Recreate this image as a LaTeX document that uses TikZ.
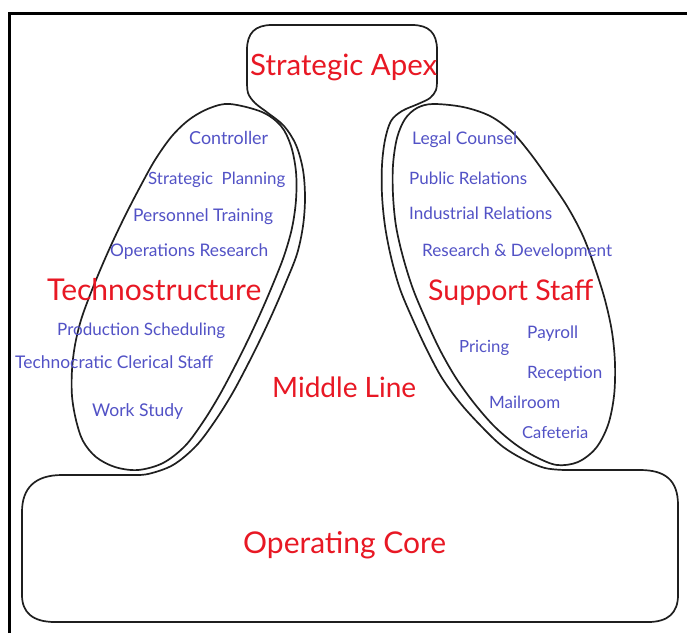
\documentclass[tikz,border=0pt]{standalone}
\usepackage{fontspec}
\setmainfont{Lato}
\usepackage{graphicx}
\definecolor{partred}{RGB}{232,24,36}
\definecolor{itemblue}{RGB}{82,82,198}
\tikzset{
  outline/.style={draw=black!88, line width=1.7pt, line join=round},
  frameline/.style={draw=black, line width=3pt},
  part/.style={text=partred, inner sep=0pt, anchor=base west},
  item/.style={text=itemblue, inner sep=0pt, anchor=base west},
}
\newcommand{\fw}[2]{\resizebox{#1pt}{!}{#2}}
\begin{document}
\begin{tikzpicture}[x=1pt,y=-1pt]
\useasboundingbox (0,0) rectangle (687,633);
\fill[white] (0,0) rectangle (687,633);
% frame
\draw[frameline] (9,633) -- (9,13.5) -- (687,13.5);
% main contour: apex, middle line, operating core
\draw[outline] (340,25) -- (272,25) .. controls (255,25) and (247,33) .. (247,50) -- (247,80)
  -- plot[smooth, tension=0.55] coordinates {(247,80) (248,93) (255,103) (268,113) (284,126) (296,145) (303,170) (305,198) (303,226) (297,254) (286,282) (274,310) (261,338) (247,366) (232,394) (215,421) (196,446) (173,465) (148,474) (130,475)}
  -- (62,475) .. controls (35,475) and (22,488) .. (22,512) -- (22,595)
  .. controls (22,612) and (32,622) .. (55,622) -- (648,622)
  .. controls (668,622) and (678,613) .. (678,595) -- (678,505)
  .. controls (678,480) and (665,470) .. (640,470) -- (565,470)
  -- plot[smooth, tension=0.55] coordinates {(565,470) (545,468) (523,459) (502,446) (482,427) (461,404) (442,378) (427,350) (413,320) (400,289) (391,257) (385,226) (382,195) (382,165) (385,140) (391,121) (402,111) (418,104) (430,98) (436,90) (437,80)}
  -- (437,50)
  .. controls (437,33) and (429,25) .. (412,25) -- cycle;
% technostructure ellipse
\draw[outline] plot[smooth cycle, tension=0.55] coordinates {(230,104) (262,112) (281,126) (291,146) (296,172) (296,200) (292,228) (284,256) (273,284) (261,312) (248,340) (234,368) (219,396) (203,422) (185,446) (163,463) (138,470) (115,467) (96,457) (83,441) (76,420) (72,396) (72,370) (75,345) (81,320) (90,295) (101,268) (113,241) (126,214) (140,187) (155,160) (172,136) (190,119) (210,108)};
% support staff ellipse
\draw[outline] plot[smooth cycle, tension=0.55] coordinates {(433,104) (463,107) (490,116) (512,132) (530,153) (548,178) (567,206) (583,236) (595,268) (605,300) (612,332) (615,364) (614,396) (608,425) (596,448) (578,462) (557,465) (536,457) (515,444) (494,426) (474,403) (456,378) (440,350) (426,320) (413,289) (403,257) (396,226) (393,195) (393,165) (397,138) (405,119) (417,108)};
% part names
\node[part] (apex) at (250,75) {\fw{187}{Strategic Apex}};
\node[part] (techno) at (47,300) {\fw{214}{Technostructure}};
\node[part] (support) at (428,300) {\fw{165}{Support Staff}};
\node[part] (middle) at (272,397) {\fw{144}{Middle Line}};
\node[part] (core) at (243,553) {\fw{203}{Operating Core}};
% technostructure items
\node[item] (t1) at (189,144) {\fw{79}{Controller}};
\node[item] (t2) at (148,184) {\fw{137}{Strategic~~Planning}};
\node[item] (t3) at (133,221) {\fw{140}{Personnel Training}};
\node[item] (t4) at (110,256) {\fw{158}{Operations Research}};
\node[item] (t5) at (57,335) {\fw{168}{Production Scheduling}};
\node[item] (t6) at (15,368) {\fw{198}{Technocratic Clerical Staff}};
\node[item] (t7) at (92,416) {\fw{91}{Work Study}};
% support staff items
\node[item] (s1) at (412,144) {\fw{105}{Legal Counsel}};
\node[item] (s2) at (409,184) {\fw{118}{Public Relations}};
\node[item] (s3) at (409,219) {\fw{143}{Industrial Relations}};
\node[item] (s4) at (422,256) {\fw{190}{Research \& Development}};
\node[item] (s5) at (527,338) {\fw{51}{Payroll}};
\node[item] (s6) at (459,352) {\fw{50}{Pricing}};
\node[item] (s7) at (527,378) {\fw{75}{Reception}};
\node[item] (s8) at (489,408) {\fw{71}{Mailroom}};
\node[item] (s9) at (522,438) {\fw{66}{Cafeteria}};
\end{tikzpicture}
\end{document}
